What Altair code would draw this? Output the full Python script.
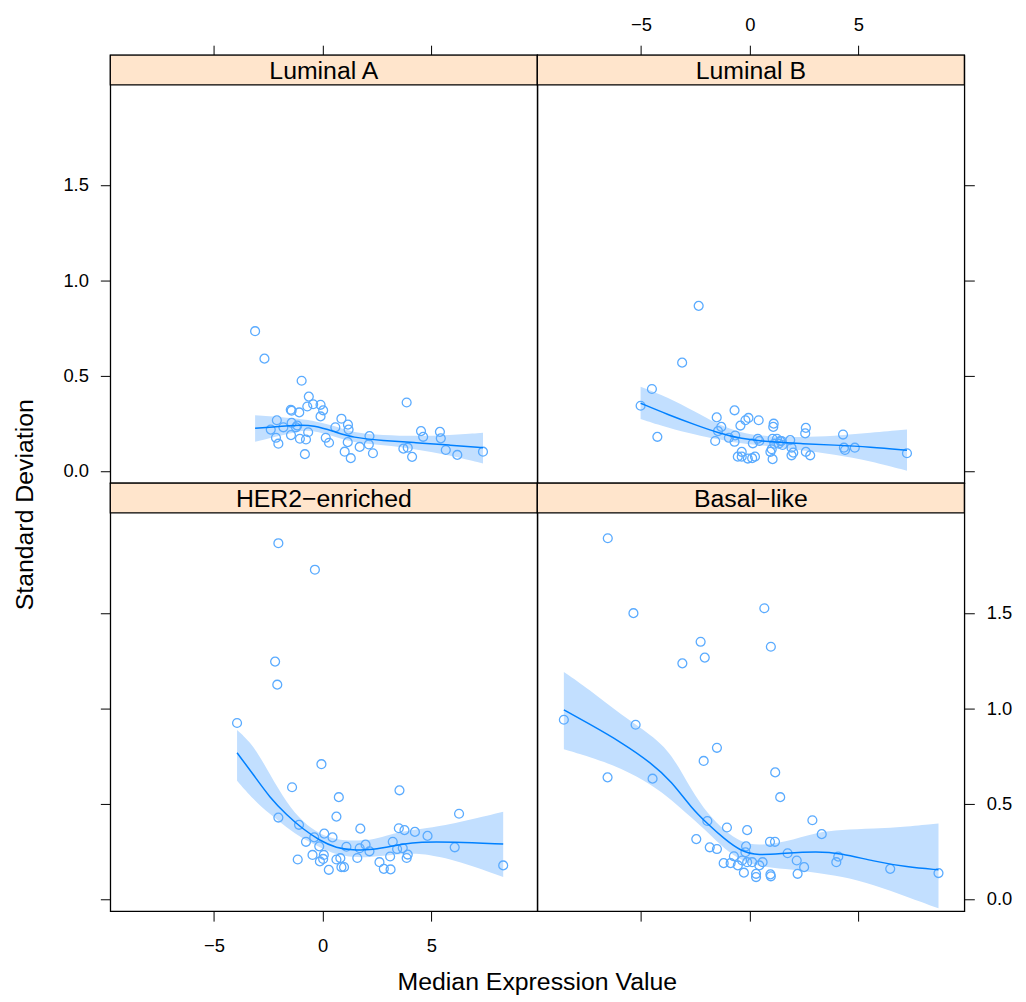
import altair as alt
import pandas as pd

# ---------------- data ----------------
panel_names = ["Luminal A", "Luminal B", "HER2\u2212enriched", "Basal\u2212like"]

lumA_x = [-3.11, -2.68, -0.97, -0.64, -0.44, -0.10, -0.71, 0.02, -0.10, -1.47, -1.43, -1.08, -2.11, -1.43,
          -1.17, -1.23, -1.81, -2.39, -2.15, -2.04, -1.46, -1.05, -0.77, -0.67, -0.82, 0.86, 0.58, 1.16,
          1.19, 0.14, 0.29, 1.15, 1.01, 1.29, 1.70, 2.15, 2.12, 2.31, 3.86, 3.71, 3.91, 4.11, 4.52, 4.62,
          5.39, 5.43, 5.66, 6.19, 7.37]
lumA_y = [0.732, 0.588, 0.472, 0.389, 0.349, 0.346, 0.337, 0.317, 0.285, 0.320, 0.315, 0.306, 0.265, 0.251,
          0.237, 0.228, 0.228, 0.216, 0.173, 0.142, 0.187, 0.168, 0.164, 0.202, 0.087, 0.273, 0.228, 0.242,
          0.216, 0.173, 0.147, 0.150, 0.100, 0.066, 0.125, 0.182, 0.138, 0.092, 0.358, 0.116, 0.121, 0.073,
          0.208, 0.178, 0.204, 0.170, 0.109, 0.083, 0.100]
lumA_fx = [-3.11, -1.05, -0.44, 0.48, 1.39, 2.76, 4.29, 5.81, 7.37]
lumA_fy = [0.223, 0.242, 0.237, 0.208, 0.173, 0.159, 0.147, 0.135, 0.121]
lumA_lo = [0.152, 0.211, 0.211, 0.182, 0.147, 0.135, 0.113, 0.083, 0.038]
lumA_hi = [0.291, 0.273, 0.262, 0.239, 0.199, 0.187, 0.182, 0.187, 0.199]

lumB_x = [-2.35, -3.11, -4.50, -5.02, -4.25, -0.70, -1.52, -0.06, -0.20, 0.41, -0.43, -1.31, -1.46, -1.59,
          -0.96, -0.67, -0.70, 0.37, 0.44, 0.14, 1.10, 1.08, 1.05, 1.25, 1.40, 1.13, 1.33, 1.51, 1.86, 1.92,
          2.00, 1.92, 1.01, 0.95, 1.05, -0.37, -0.55, -0.37, -0.09, 0.11, 0.24, 2.58, 2.55, 2.58, 2.78,
          4.29, 4.33, 4.38, 4.83, 7.23, 1.46]
lumB_y = [0.865, 0.567, 0.429, 0.341, 0.178, 0.317, 0.280, 0.277, 0.265, 0.265, 0.237, 0.230, 0.208, 0.156,
          0.173, 0.185, 0.152, 0.168, 0.156, 0.144, 0.247, 0.230, 0.168, 0.168, 0.156, 0.142, 0.142, 0.135,
          0.161, 0.121, 0.095, 0.081, 0.113, 0.099, 0.061, 0.099, 0.074, 0.074, 0.064, 0.066, 0.074, 0.225,
          0.196, 0.099, 0.081, 0.190, 0.121, 0.109, 0.121, 0.092, 0.156]
lumB_fx = [-5.02, -3.75, -2.53, -1.46, -0.40, 0.82, 2.35, 3.87, 5.55, 7.23]
lumB_fy = [0.354, 0.294, 0.242, 0.199, 0.168, 0.152, 0.142, 0.135, 0.125, 0.107]
lumB_lo = [0.272, 0.225, 0.190, 0.164, 0.142, 0.130, 0.107, 0.087, 0.052, 0.000]
lumB_hi = [0.441, 0.384, 0.311, 0.242, 0.199, 0.178, 0.176, 0.182, 0.199, 0.216]

her2_x = [-2.04, -0.36, -2.19, -2.09, -3.94, -0.06, -1.41, 3.53, 0.74, 0.63, -2.04, -1.09, 6.27, 1.73,
          3.50, 3.76, 4.24, 4.82, 0.07, 0.45, -0.39, -0.77, -0.16, 1.09, 1.97, 3.22, 1.70, 2.15, 3.42, 3.68,
          3.91, 3.86, 6.07, 8.30, -0.47, -1.15, 0.05, 0.02, -0.13, 0.63, 0.81, 0.86, 0.98, 0.28, 1.59, 2.61,
          3.10, 2.81, 3.12]
her2_y = [1.865, 1.726, 1.244, 1.123, 0.922, 0.706, 0.585, 0.569, 0.533, 0.431, 0.426, 0.388, 0.446, 0.368,
          0.370, 0.360, 0.351, 0.330, 0.342, 0.322, 0.322, 0.299, 0.275, 0.273, 0.284, 0.299, 0.265, 0.249,
          0.261, 0.266, 0.232, 0.214, 0.270, 0.175, 0.230, 0.206, 0.230, 0.209, 0.196, 0.206, 0.213, 0.166,
          0.166, 0.152, 0.214, 0.192, 0.222, 0.157, 0.154]
her2_fx = [-3.94, -3.18, -2.42, -1.66, -0.90, -0.13, 0.63, 1.39, 2.15, 2.92, 3.68, 4.44, 5.97, 8.30]
her2_fy = [0.766, 0.650, 0.529, 0.440, 0.365, 0.305, 0.266, 0.256, 0.256, 0.270, 0.287, 0.299, 0.299, 0.287]
her2_lo = [0.619, 0.520, 0.443, 0.374, 0.313, 0.270, 0.230, 0.218, 0.218, 0.227, 0.235, 0.239, 0.209, 0.114]
her2_hi = [0.885, 0.806, 0.650, 0.503, 0.400, 0.339, 0.310, 0.305, 0.305, 0.331, 0.353, 0.365, 0.391, 0.457]

basal_x = [-6.53, -5.35, 0.67, -2.26, 0.97, -2.07, -3.10, -8.55, -5.25, -1.51, -2.12, 1.17, -6.54, -4.47,
           1.40, 2.88, -1.95, -1.05, -0.12, 3.31, -2.46, 0.93, 1.16, -0.17, -1.84, -1.51, -0.20, 1.74,
           -0.73, 4.07, 3.98, 2.16, -0.35, -0.12, 0.11, 0.59, -1.20, -0.88, -0.55, 0.44, 2.50, 6.46, 8.68,
           -0.27, 0.29, 0.29, 0.95, 0.97, 2.20]
basal_y = [1.891, 1.498, 1.524, 1.348, 1.322, 1.265, 1.235, 0.939, 0.913, 0.792, 0.723, 0.663, 0.637, 0.630,
           0.533, 0.412, 0.408, 0.374, 0.360, 0.339, 0.313, 0.299, 0.299, 0.275, 0.270, 0.261, 0.244, 0.239,
           0.223, 0.221, 0.192, 0.201, 0.201, 0.192, 0.192, 0.192, 0.187, 0.187, 0.175, 0.175, 0.166, 0.157,
           0.135, 0.137, 0.131, 0.114, 0.128, 0.118, 0.131]
basal_fx = [-8.55, -7.41, -5.89, -4.51, -3.60, -2.69, -1.92, -1.16, -0.40, 0.37, 1.59, 3.11, 4.18, 5.70, 7.23, 8.68]
basal_fy = [0.991, 0.919, 0.820, 0.711, 0.616, 0.477, 0.391, 0.313, 0.249, 0.227, 0.239, 0.249, 0.239, 0.197, 0.166, 0.152]
basal_lo = [0.784, 0.746, 0.685, 0.598, 0.520, 0.426, 0.348, 0.261, 0.201, 0.170, 0.157, 0.136, 0.118, 0.075, 0.010, -0.050]
basal_hi = [1.190, 1.100, 0.962, 0.858, 0.763, 0.570, 0.443, 0.356, 0.296, 0.279, 0.296, 0.350, 0.362, 0.368, 0.378, 0.395]

x_ticks = [-5, 0, 5]
y_ticks = [0.0, 0.5, 1.0, 1.5]

# ---------------- styling ----------------
FONT = "Liberation Sans"
XDOM = [-9.77, 9.87]
YDOM = [-0.065, 2.18]
W, H = 430, 431
STRIP_H = 30
PT_COLOR = "#5aabff"
LINE_COLOR = "#0080ff"
BAND_COLOR = "#c2dfff"
STRIP_COLOR = "#ffe5cc"
CURVE = "basis"


def x_axis(orient, labels):
    return alt.Axis(orient=orient, values=x_ticks, labels=labels, format="d", title=None, grid=False,
                    domain=False, ticks=True, tickSize=10, tickColor="black", tickWidth=1,
                    labelFontSize=18.5, labelFont=FONT, labelColor="black",
                    labelPadding=11 if orient == "top" else 16)


def y_axis(orient, labels):
    return alt.Axis(orient=orient, values=y_ticks, labels=labels, format=".1f", title=None, grid=False,
                    domain=False, ticks=True, tickSize=10, tickColor="black", tickWidth=1,
                    labelFontSize=18.5, labelFont=FONT, labelColor="black", labelPadding=12)


def panel(name, px, py, fx, fy, lo, hi, xax, yax):
    pts = pd.DataFrame({"x": px, "y": py})
    fit = pd.DataFrame({"x": fx, "y": fy, "lo": lo, "hi": hi})
    xs = alt.Scale(domain=XDOM, nice=False, zero=False)
    ys = alt.Scale(domain=YDOM, nice=False, zero=False)
    X = alt.X("x:Q", scale=xs, axis=xax)
    band = alt.Chart(fit).mark_area(color=BAND_COLOR, opacity=1, interpolate=CURVE).encode(
        x=X, y=alt.Y("lo:Q", scale=ys, axis=yax), y2="hi:Q")
    points = alt.Chart(pts).mark_point(shape="circle", filled=False, size=80, strokeWidth=1.3,
                                       color=PT_COLOR, opacity=1).encode(
        x=X, y=alt.Y("y:Q", scale=ys, axis=yax))
    line = alt.Chart(fit).mark_line(color=LINE_COLOR, strokeWidth=1.5, interpolate=CURVE).encode(
        x=X, y=alt.Y("y:Q", scale=ys, axis=yax))
    sdf = pd.DataFrame({"label": [name]})
    strip = alt.Chart(sdf).mark_rect(fill=STRIP_COLOR, stroke="black", strokeWidth=1.3).encode(
        x=alt.value(0), x2=alt.value(W), y=alt.value(0), y2=alt.value(STRIP_H))
    text = alt.Chart(sdf).mark_text(font=FONT, fontSize=25, color="black", baseline="middle",
                                    align="center").encode(
        x=alt.value(W / 2), y=alt.value(STRIP_H / 2 + 1), text="label:N")
    return alt.layer(band, points, line, strip, text).properties(width=W, height=H)


p_tl = panel(panel_names[0], lumA_x, lumA_y, lumA_fx, lumA_fy, lumA_lo, lumA_hi,
             x_axis("top", False), y_axis("left", True))
p_tr = panel(panel_names[1], lumB_x, lumB_y, lumB_fx, lumB_fy, lumB_lo, lumB_hi,
             x_axis("top", True), y_axis("right", False))
p_bl = panel(panel_names[2], her2_x, her2_y, her2_fx, her2_fy, her2_lo, her2_hi,
             x_axis("bottom", True), y_axis("left", False))
p_br = panel(panel_names[3], basal_x, basal_y, basal_fx, basal_fy, basal_lo, basal_hi,
             x_axis("bottom", False), y_axis("right", True))

grid = alt.concat(p_tl, p_tr, p_bl, p_br, columns=2, spacing=0, bounds="flush").properties(
    title=alt.TitleParams("Median Expression Value", orient="bottom", anchor="middle", fontSize=25,
                          font=FONT, fontWeight="normal", color="black", offset=14))
chart = alt.hconcat(grid).properties(
    padding={"left": 5, "top": 3, "right": 5, "bottom": 5},
    title=alt.TitleParams("Standard Deviation", orient="left", anchor="middle", fontSize=25,
                          font=FONT, fontWeight="normal", color="black", offset=24)
).configure_view(stroke="black", strokeWidth=1.3)

chart.save("out.html", embed_options={"renderer": "svg", "actions": False})
